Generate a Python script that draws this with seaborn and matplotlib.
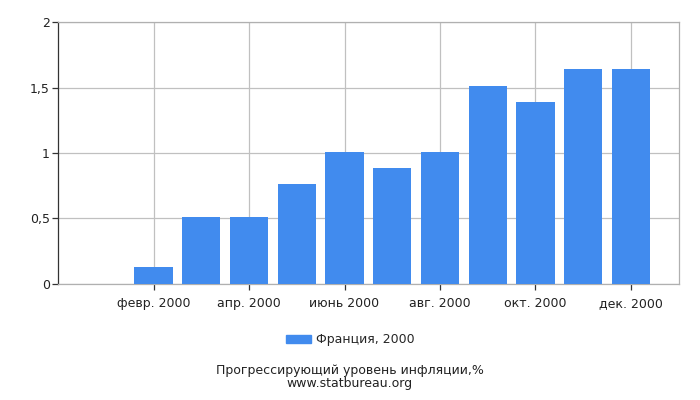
import pandas as pd
import matplotlib
matplotlib.use("Agg")
import matplotlib.pyplot as plt
import matplotlib.patches as mpatches
import seaborn as sns

# Data
months = ['янв. 2000', 'февр. 2000', 'март 2000', 'апр. 2000', 'май 2000', 'июнь 2000',
          'июль 2000', 'авг. 2000', 'сент. 2000', 'окт. 2000', 'нояб. 2000', 'дек. 2000']
values = [0.0, 0.13, 0.51, 0.51, 0.76, 1.01, 0.885, 1.01, 1.51, 1.39, 1.64, 1.64]
y_ticks = [0, 0.5, 1, 1.5, 2]
y_tick_labels = ['0', '0,5', '1', '1,5', '2']
series_label = 'Франция, 2000'
footer = 'Прогрессирующий уровень инфляции,%\nwww.statbureau.org'

BAR_COLOR = '#418BEE'
GRID_COLOR = '#C0C0C0'

sns.set_style('white', {'xtick.bottom': True, 'ytick.left': True})
plt.rcParams['font.family'] = ['DejaVu Sans']
plt.rcParams.update({
    'xtick.major.size': 4, 'ytick.major.size': 4,
    'xtick.major.width': 0.9, 'ytick.major.width': 0.9,
    'xtick.color': '#333333', 'ytick.color': '#333333',
    'xtick.labelcolor': '#222222', 'ytick.labelcolor': '#222222',
})

df = pd.DataFrame({'month': months, 'value': values})

fig = plt.figure(figsize=(7, 4), dpi=100)
ax = fig.add_axes([0.0829, 0.291, 0.8867, 0.653])

sns.barplot(data=df, x='month', y='value', color=BAR_COLOR, saturation=1,
            width=0.8, linewidth=0, ax=ax, zorder=3)

ax.set_xlim(-1, 12)
ax.set_ylim(0, 2)

lab_idx = list(range(1, 12, 2))
ax.set_xticks(lab_idx)
ax.set_xticklabels([months[i] for i in lab_idx], fontsize=9)
ax.set_yticks(y_ticks)
ax.set_yticklabels(y_tick_labels, fontsize=9)
ax.set_xlabel('')
ax.set_ylabel('')

ax.grid(True, color=GRID_COLOR, linewidth=0.9, zorder=0)
ax.set_axisbelow(True)
for side in ['top', 'right', 'bottom']:
    ax.spines[side].set_color('#B0B0B0')
    ax.spines[side].set_linewidth(0.9)
ax.spines['left'].set_color('#333333')
ax.spines['left'].set_linewidth(0.9)
ax.tick_params(axis='y', pad=2)
ax.tick_params(axis='x', pad=6)

handle = mpatches.Patch(color=BAR_COLOR, label=series_label)
fig.legend(handles=[handle], loc='center', bbox_to_anchor=(0.5, 0.15),
           frameon=False, fontsize=9, handlelength=2.0, handleheight=0.6,
           handletextpad=0.4)

fig.text(0.5, 0.058, footer, ha='center', va='center', fontsize=9,
         linespacing=0.95, color='#222222')

fig.savefig('out.png', dpi=100)
